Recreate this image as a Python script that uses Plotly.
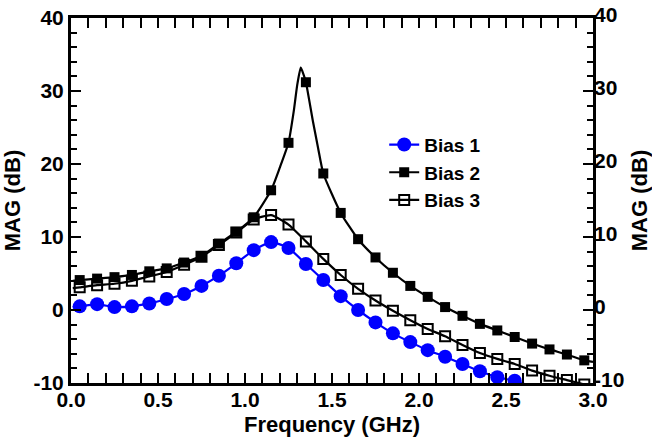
import plotly.graph_objects as go

# Marker frequencies (GHz)
freq = [0.05, 0.15, 0.25, 0.35, 0.45, 0.55, 0.65, 0.75, 0.85, 0.95,
        1.05, 1.15, 1.25, 1.35, 1.45, 1.55, 1.65, 1.75, 1.85, 1.95,
        2.05, 2.15, 2.25, 2.35, 2.45, 2.55, 2.65, 2.75, 2.85, 2.95]

bias1 = [0.5, 0.8, 0.4, 0.5, 0.9, 1.5, 2.2, 3.3, 4.7, 6.4,
         8.2, 9.3, 8.5, 6.3, 4.1, 1.9, 0.0, -1.7, -3.2, -4.4,
         -5.5, -6.4, -7.4, -8.4, -9.2, -9.7, None, None, None, None]
bias2 = [4.1, 4.3, 4.5, 4.8, 5.3, 5.7, 6.5, 7.4, 9.1, 10.7,
         12.7, 16.4, 22.9, 31.2, 18.7, 13.3, 9.7, 7.2, 5.1, 3.3,
         1.8, 0.4, -0.8, -1.9, -2.8, -3.7, -4.6, -5.4, -6.1, -6.9]
bias3 = [3.1, 3.4, 3.6, 4.0, 4.6, 5.2, 6.2, 7.3, 8.9, 10.6,
         12.4, 13.0, 11.7, 9.4, 7.0, 4.8, 2.9, 1.3, -0.1, -1.4,
         -2.6, -3.6, -4.8, -5.9, -6.7, -7.4, -8.3, -9.0, -9.6, -10.2]

# Extra points on the drawn curves (no markers there)
line_extra_f1 = [0.01, 2.65]
line_extra_v1 = [0.4, -10.5]
line_extra_f2 = [0.01, 1.20, 1.28, 1.30, 1.32, 1.33, 1.39, 1.42, 3.0]
line_extra_v2 = [4.0, 19.5, 27.2, 30.8, 33.2, 32.7, 25.9, 22.2, -7.1]
line_extra_f3 = [0.01]
line_extra_v3 = [3.0]

x_tickvals = [0.0, 0.5, 1.0, 1.5, 2.0, 2.5, 3.0]
x_ticktext = ["0.0", "0.5", "1.0", "1.5", "2.0", "2.5", "3.0"]
y_tickvals = [-10, 0, 10, 20, 30, 40]
y_ticktext = ["-10", "0", "10", "20", "30", "40"]

BLUE = "#0000ff"
FONT = "Liberation Sans, Arial, sans-serif"


def merged(fs, vs, extra_f, extra_v):
    pts = [(f, v) for f, v in zip(fs, vs) if v is not None] + list(zip(extra_f, extra_v))
    pts.sort()
    return [p[0] for p in pts], [p[1] for p in pts]


fig = go.Figure()

series = [
    ("Bias 3", bias3, line_extra_f3, line_extra_v3,
     dict(symbol="square-open", size=10, color="black", line=dict(width=2, color="black")), "black", 3),
    ("Bias 2", bias2, line_extra_f2, line_extra_v2,
     dict(symbol="square", size=10, color="black"), "black", 2),
    ("Bias 1", bias1, line_extra_f1, line_extra_v1,
     dict(symbol="circle", size=14, color=BLUE), BLUE, 1),
]

for name, vals, ef, ev, mk, col, rank in series:
    lf, lv = merged(freq, vals, ef, ev)
    fig.add_trace(go.Scatter(x=lf, y=lv, mode="lines", showlegend=False,
                             line=dict(color=col, width=2.2, shape="spline", smoothing=0.5),
                             hoverinfo="skip"))
    fig.add_trace(go.Scatter(x=freq, y=vals, mode="markers", showlegend=False, marker=mk))
    fig.add_trace(go.Scatter(x=[None], y=[None], mode="lines+markers", name=name,
                             legendrank=rank, marker=mk, line=dict(color=col, width=2.2)))

# invisible trace to bind the right-hand axis
fig.add_trace(go.Scatter(x=[None], y=[None], yaxis="y2", showlegend=False, hoverinfo="skip"))

TICKFONT = dict(family=FONT, size=21, color="black", weight="bold")
TITLEFONT = dict(family=FONT, size=22, color="black", weight="bold")

axis_common = dict(
    showline=True, linewidth=3, linecolor="black", mirror="allticks",
    ticks="inside", ticklen=10, tickwidth=2, tickcolor="black",
    showgrid=False, zeroline=False, automargin=False,
    tickfont=TICKFONT,
)

fig.update_layout(
    width=652, height=437,
    margin=dict(l=71, r=59, t=18, b=54),
    paper_bgcolor="white", plot_bgcolor="white",
    font=dict(family=FONT, size=20, color="black", weight="bold"),
    xaxis=dict(range=[0, 3], tickmode="array", tickvals=x_tickvals, ticktext=x_ticktext,
               ticklabelstandoff=-4,
               minor=dict(ticks="inside", ticklen=6, tickwidth=2, tickcolor="black", tick0=0, dtick=0.1),
               title=dict(text="Frequency (GHz)", font=TITLEFONT),
               **axis_common),
    yaxis=dict(range=[-10, 40], tickmode="array", tickvals=y_tickvals, ticktext=y_ticktext,
               minor=dict(ticks="inside", ticklen=6, tickwidth=2, tickcolor="black", tick0=0, dtick=2),
               title=dict(text="MAG (dB)", font=TITLEFONT),
               **axis_common),
    yaxis2=dict(range=[-10, 40], overlaying="y", side="right", tickmode="array",
                tickvals=y_tickvals, ticktext=y_ticktext, ticklabelshift=-3,
                showline=False, ticks="inside", ticklen=10, tickwidth=2, tickcolor="black",
                showgrid=False, zeroline=False, automargin=False,
                tickfont=TICKFONT,
                title=dict(text="MAG (dB)", font=TITLEFONT)),
    legend=dict(x=0.6, y=0.705, xanchor="left", yanchor="top", bgcolor="rgba(0,0,0,0)",
                font=dict(family=FONT, size=19, color="black", weight="bold"),
                tracegroupgap=0, itemwidth=30),
)

fig.write_html("out.html")
